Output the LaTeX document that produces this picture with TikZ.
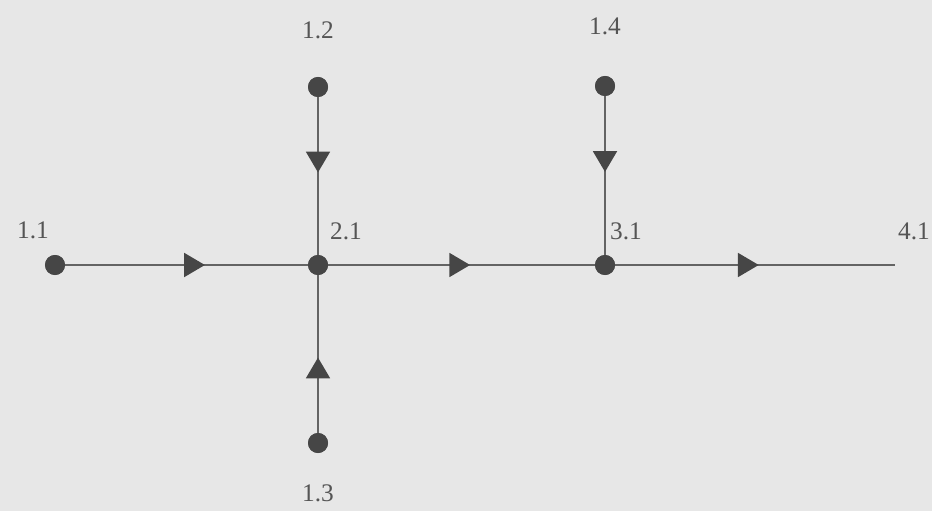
\documentclass[tikz,border=0pt]{standalone}
\usepackage{fontspec}
\setmainfont{Liberation Serif}
\usetikzlibrary{arrows.meta, decorations.markings}
\definecolor{mybg}{RGB}{231,231,231}
\definecolor{myline}{RGB}{100,100,100}
\definecolor{mydot}{RGB}{70,70,70}
\definecolor{mytext}{RGB}{85,85,85}
\tikzset{
  dot/.style={circle, fill=mydot, inner sep=0pt, minimum size=0.5cm},
  tag/.style={font=\fontsize{18}{20}\selectfont, color=mytext},
  flow/.style={line width=1.3pt, color=myline, postaction={decorate},
    decoration={markings, mark=at position #1 with
      {\arrow[mydot]{Triangle[length=0.52cm, width=0.6cm]}}}},
  flow/.default=0.53
}
\begin{document}
\begin{tikzpicture}[x=0.025cm, y=-0.025cm]
  % Background
  \fill[mybg] (0,0) rectangle (932,511);
  \useasboundingbox (0,0) rectangle (932,511);

  % Junctions
  \node[dot] (n11) at (55,265) {};
  \node[dot] (n12) at (318,87) {};
  \node[dot] (n13) at (318,443) {};
  \node[dot] (n14) at (605,86) {};
  \node[dot] (n21) at (318,265) {};
  \node[dot] (n31) at (605,265) {};
  \coordinate (n41) at (895,265);

  % Flows
  \draw[flow=0.57] (n11.center) -- (n21.center);
  \draw[flow=0.48] (n12.center) -- (n21.center);
  \draw[flow=0.48] (n13.center) -- (n21.center);
  \draw[flow] (n21.center) -- (n31.center);
  \draw[flow=0.48] (n14.center) -- (n31.center);
  \draw[flow] (n31.center) -- (n41);

  % Redraw junctions on top
  \foreach \n in {n11,n12,n13,n14,n21,n31}
    \fill[mydot] (\n) circle (10);

  % Labels
  \node[tag] (t11) at (33,230) {1.1};
  \node[tag] (t12) at (318,30) {1.2};
  \node[tag] (t13) at (318,493) {1.3};
  \node[tag] (t14) at (605,26) {1.4};
  \node[tag] (t21) at (346,231) {2.1};
  \node[tag] (t31) at (626,231) {3.1};
  \node[tag] (t41) at (914,231) {4.1};
\end{tikzpicture}
\end{document}
